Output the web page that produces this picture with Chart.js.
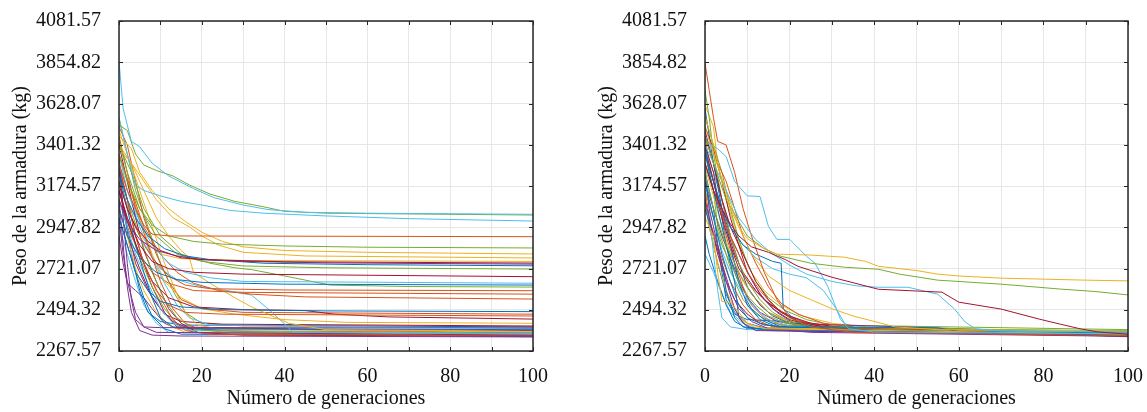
<!DOCTYPE html>
<html>
<head>
<meta charset="utf-8">
<script src="https://cdn.jsdelivr.net/npm/chart.js@4.4.1/dist/chart.umd.min.js"></script>
<style>
  html, body { margin:0; padding:0; background:#ffffff; }
  body { width:1147px; height:412px; position:relative; overflow:hidden; }
  canvas { position:absolute; top:0; }
  #c1 { left:0; }
  #c2 { left:586px; }
</style>
</head>
<body>
<canvas id="c1" width="552" height="412"></canvas>
<canvas id="c2" width="561" height="412"></canvas>
<script>
// ---------- axis ticks ----------
const yTicks = [2267.57, 2494.32, 2721.07, 2947.82, 3174.57, 3401.32, 3628.07, 3854.82, 4081.57];
const xTicks = [0, 10, 20, 30, 40, 50, 60, 70, 80, 90, 100];
const xLabelTicks = [0, 20, 40, 60, 80, 100];
const yTitle = 'Peso de la armadura (kg)';
const xTitle = 'Número de generaciones';

// MATLAB default colour order
const palette = { b:'#0072BD', o:'#D95319', y:'#EDB120', p:'#7E2F8E', g:'#77AC30', c:'#4DBEEE', r:'#A2142F' };

// ---------- left panel: runs [generation, weight] ----------
const leftRuns = [
  [[0,3860],[1,3600],[3,3420],[5,3390],[8,3300],[12,3230],[18,3160],[23,3110],[30,3070],[36,3045],[45,3030],[60,3025],[100,3019]],
  [[0,3510],[2,3480],[4,3350],[6,3290],[9,3260],[13,3230],[17,3180],[22,3130],[28,3090],[35,3060],[40,3035],[50,3025],[100,3015]],
  [[0,3550],[2,3350],[4,3180],[6,3150],[10,3120],[15,3090],[20,3070],[27,3040],[35,3025],[50,3010],[70,2995],[100,2982]],
  [[0,3300],[2,3150],[4,3050],[6,2960],[8,2910],[12,2900],[100,2896]],
  [[0,3420],[2,3250],[5,3050],[8,2960],[12,2900],[18,2870],[25,2855],[40,2845],[60,2838],[100,2834]],
  [[0,3450],[3,3380],[5,3250],[8,3150],[12,3050],[16,2980],[20,2920],[25,2870],[30,2840],[40,2820],[60,2810],[100,2801]],
  [[0,3380],[3,3300],[6,3200],[9,3100],[13,3000],[17,2950],[20,2900],[24,2850],[30,2810],[45,2790],[100,2779]],
  [[0,3200],[2,3050],[4,2950],[7,2870],[10,2820],[15,2780],[20,2770],[40,2758],[100,2751]],
  [[0,3100],[2,2980],[5,2880],[9,2820],[14,2790],[20,2770],[30,2760],[50,2752],[100,2745]],
  [[0,3250],[2,3100],[4,3000],[7,2900],[11,2830],[16,2790],[22,2770],[35,2750],[60,2742],[100,2736]],
  [[0,3350],[2,3200],[5,3050],[9,2900],[14,2800],[20,2760],[30,2735],[50,2725],[100,2718]],
  [[0,3150],[2,3000],[5,2850],[8,2760],[12,2720],[18,2700],[30,2690],[100,2676]],
  [[0,3300],[2,3150],[5,2980],[8,2850],[12,2750],[16,2700],[22,2670],[30,2650],[100,2640]],
  [[0,3050],[2,2900],[5,2780],[9,2700],[14,2660],[20,2645],[40,2635],[100,2630]],
  [[0,3400],[3,3250],[6,3050],[10,2900],[15,2800],[22,2750],[28,2725],[32,2715],[40,2680],[51,2630],[70,2622],[100,2619]],
  [[0,3200],[2,3050],[5,2900],[8,2780],[12,2680],[16,2630],[22,2610],[40,2603],[100,2599]],
  [[0,3350],[3,3150],[6,2950],[10,2800],[14,2700],[18,2640],[24,2600],[32,2580],[45,2565],[100,2553]],
  [[0,3000],[2,2850],[4,2700],[7,2600],[10,2540],[15,2510],[25,2495],[50,2488],[100,2484]],
  [[0,3300],[2,3100],[4,2900],[6,2750],[9,2600],[12,2520],[16,2480],[25,2470],[100,2460]],
  [[0,3150],[2,2980],[5,2800],[8,2650],[12,2560],[18,2510],[30,2495],[45,2490],[52,2470],[65,2455],[100,2443]],
  [[0,3400],[3,3300],[6,3150],[9,3000],[12,2900],[15,2820],[17,2780],[18,2700],[22,2640],[28,2560],[32,2510],[41,2420],[50,2385],[100,2375]],
  [[0,3200],[3,3000],[6,2850],[10,2720],[14,2660],[20,2620],[26,2600],[32,2575],[37,2480],[42,2372],[100,2365]],
  [[0,3350],[1,3000],[2,2750],[3,2550],[4,2440],[6,2400],[10,2396],[100,2394]],
  [[0,3100],[1,2850],[2,2620],[3,2480],[5,2380],[8,2355],[15,2350],[100,2345]],
  [[0,3000],[1,2800],[2,2650],[4,2480],[6,2400],[9,2370],[100,2355]],
  [[0,3250],[2,3050],[4,2850],[6,2700],[8,2560],[10,2450],[13,2400],[20,2390],[100,2385]],
  [[0,3150],[2,3000],[4,2850],[7,2700],[10,2560],[13,2440],[16,2380],[22,2360],[100,2350]],
  [[0,3480],[2,3350],[5,3150],[8,2950],[11,2750],[14,2580],[16,2480],[19,2410],[25,2385],[100,2372]],
  [[0,3250],[2,3100],[5,2900],[8,2700],[11,2550],[14,2450],[18,2390],[25,2372],[100,2365]],
  [[0,3100],[2,2950],[4,2800],[7,2640],[10,2500],[13,2420],[17,2380],[100,2360]],
  [[0,3400],[2,3200],[4,3000],[6,2820],[9,2650],[12,2500],[15,2420],[19,2370],[30,2355],[100,2350]],
  [[0,3000],[2,2850],[4,2700],[6,2560],[8,2460],[11,2390],[15,2360],[100,2348]],
  [[0,3450],[2,3250],[4,3050],[7,2850],[10,2650],[13,2500],[16,2420],[20,2380],[100,2362]],
  [[0,3050],[2,2900],[4,2720],[6,2600],[9,2480],[12,2410],[16,2370],[100,2355]],
  [[0,3200],[2,2950],[4,2750],[7,2600],[10,2500],[13,2430],[17,2390],[30,2375],[100,2370]],
  [[0,3150],[2,2980],[5,2780],[8,2620],[11,2500],[14,2420],[18,2370],[100,2350]],
  [[0,3350],[2,3150],[5,2950],[8,2780],[11,2640],[14,2520],[17,2450],[22,2410],[100,2392]],
  [[0,3050],[2,2900],[5,2720],[8,2560],[11,2470],[15,2430],[25,2415],[100,2405]],
  [[0,3300],[1,3050],[3,2800],[5,2600],[7,2480],[10,2430],[15,2410],[100,2400]],
  [[0,3500],[2,3400],[4,3200],[6,3000],[9,2800],[12,2650],[15,2550],[20,2500],[30,2480],[100,2470]],
  [[0,3350],[2,3200],[5,3000],[8,2800],[11,2650],[15,2560],[20,2500],[28,2470],[40,2440],[55,2425],[100,2420]],
  [[0,2900],[1,2750],[2,2640],[4,2600],[6,2560],[8,2500],[11,2420],[14,2390],[100,2380]],
  [[0,3550],[2,3350],[4,3150],[7,2950],[10,2750],[13,2600],[16,2480],[20,2420],[30,2405],[100,2400]],
  [[0,2950],[2,2800],[4,2650],[6,2520],[9,2420],[12,2370],[100,2345]],
  [[0,3280],[2,3100],[4,2900],[6,2750],[8,2620],[11,2480],[14,2400],[100,2365]],
  [[0,3200],[3,3000],[6,2880],[10,2800],[15,2775],[30,2765],[100,2760]],
  [[0,3100],[2,2950],[5,2800],[8,2700],[12,2640],[18,2600],[30,2590],[100,2580]]
];
const leftColors = ['c','g','c','o','g','y','y','r','p','b','g','r','c','b','g','o','o','b','o','r','y','c','p','p','p','b','o','y','g','c','r','b','o','y','p','g','c','r','b','o','y','p','g','c','r','y','o'];

// ---------- right panel: runs [generation, weight] ----------
const rightRuns = [
  [[0,3560],[2,3400],[4,3200],[6,3050],[8,2950],[10,2885],[14,2830],[17,2800],[25,2795],[33,2783],[38,2760],[41,2733],[50,2710],[55,2690],[60,2680],[70,2668],[90,2657],[100,2653]],
  [[0,3450],[2,3300],[5,3100],[8,2980],[10,2900],[14,2830],[18,2788],[25,2750],[33,2728],[41,2717],[46,2690],[55,2657],[70,2635],[84,2608],[92,2595],[100,2576]],
  [[0,3300],[2,3150],[5,3000],[8,2900],[11,2840],[15,2810],[19,2770],[22,2733],[30,2673],[41,2607],[56,2591],[60,2536],[70,2498],[79,2443],[84,2415],[89,2388],[93,2372],[100,2360]],
  [[0,3400],[2,3300],[5,3150],[8,3000],[12,2880],[16,2800],[20,2740],[24,2690],[30,2650],[36,2625],[41,2618],[48,2618],[55,2580],[59,2498],[61.5,2427],[64,2388],[70,2378],[100,2372]],
  [[0,3420],[3,3380],[5,3336],[7,3200],[8,3172],[10,3120],[13,3117],[15,2952],[17,2881],[20,2881],[24,2788],[26,2750],[29,2624],[32,2443],[34,2390],[40,2372],[100,2362]],
  [[0,3850],[1,3700],[2,3550],[3,3420],[5,3400],[7,3250],[9,3050],[11,2900],[14,2700],[17,2550],[20,2450],[25,2400],[35,2370],[100,2352]],
  [[0,3500],[2,3350],[5,3150],[8,2950],[11,2800],[15,2680],[20,2600],[25,2550],[30,2500],[35,2460],[40,2430],[45,2400],[55,2385],[100,2378]],
  [[0,3000],[2,2900],[3,2700],[4,2540],[6,2535],[8,2480],[10,2420],[14,2390],[100,2360]],
  [[0,3350],[2,3200],[4,3050],[6,2950],[9,2850],[12,2800],[16,2760],[18,2750],[18.5,2500],[22,2420],[30,2385],[100,2360]],
  [[0,3200],[2,3000],[4,2800],[6,2650],[8,2520],[10,2450],[14,2410],[20,2400],[40,2398],[55,2395],[60,2375],[100,2365]],
  [[0,3250],[2,3050],[5,2850],[8,2700],[11,2580],[15,2480],[20,2420],[28,2395],[55,2392],[60,2385],[100,2380]],
  [[0,3250],[1,3050],[3,2850],[5,2650],[7,2500],[9,2420],[12,2380],[100,2350]],
  [[0,3100],[2,2900],[4,2750],[6,2600],[8,2500],[11,2430],[15,2390],[25,2370],[100,2348]],
  [[0,3400],[1,3250],[3,3050],[5,2850],[7,2650],[8,2450],[10,2400],[15,2380],[100,2355]],
  [[0,3450],[2,3300],[4,3100],[6,2950],[9,2800],[12,2650],[15,2550],[18,2480],[22,2430],[28,2400],[40,2380],[100,2350]],
  [[0,3050],[2,2900],[4,2750],[5,2600],[7,2450],[9,2400],[15,2385],[100,2362]],
  [[0,3300],[1,3050],[2,2800],[3,2600],[4,2450],[6,2400],[10,2385],[100,2370]],
  [[0,3350],[2,3150],[5,2950],[8,2800],[10,2700],[13,2600],[16,2520],[20,2450],[26,2410],[35,2385],[100,2365]],
  [[0,3700],[1,3550],[2,3350],[4,3100],[6,2900],[8,2750],[10,2650],[13,2550],[16,2480],[20,2430],[28,2400],[100,2375]],
  [[0,3150],[1,2950],[3,2750],[5,2600],[7,2500],[9,2430],[12,2395],[100,2365]],
  [[0,3380],[2,3200],[4,3000],[6,2850],[8,2720],[11,2620],[14,2550],[17,2500],[20,2460],[25,2420],[33,2395],[100,2355]],
  [[0,3350],[2,3200],[4,3050],[6,2900],[9,2750],[12,2620],[14,2550],[17,2480],[21,2420],[26,2395],[100,2358]],
  [[0,2900],[1,2800],[3,2650],[5,2520],[7,2430],[10,2390],[100,2360]],
  [[0,3420],[2,3400],[3,3300],[5,3200],[7,3050],[9,2900],[12,2750],[15,2620],[18,2530],[22,2470],[28,2420],[36,2395],[100,2370]],
  [[0,3150],[2,3000],[4,2850],[7,2700],[9,2600],[12,2520],[15,2460],[19,2420],[25,2400],[100,2372]],
  [[0,3180],[2,3000],[4,2820],[6,2700],[9,2580],[12,2500],[15,2440],[20,2405],[100,2368]],
  [[0,3500],[2,3380],[4,3200],[6,3000],[8,2850],[10,2700],[13,2580],[16,2500],[20,2440],[26,2400],[100,2348]],
  [[0,3600],[2,3300],[4,3050],[6,2850],[8,2650],[10,2520],[13,2440],[17,2400],[100,2358]],
  [[0,3480],[2,3300],[4,3100],[6,2900],[8,2750],[10,2620],[13,2520],[16,2460],[20,2420],[100,2360]],
  [[0,3280],[2,3120],[4,2950],[6,2800],[9,2650],[12,2550],[15,2480],[20,2430],[30,2400],[100,2345]],
  [[0,2800],[2,2700],[4,2580],[6,2480],[9,2420],[12,2390],[100,2375]],
  [[0,3550],[2,3400],[4,3250],[6,3050],[8,2880],[10,2750],[12,2650],[15,2560],[19,2490],[24,2440],[30,2410],[100,2385]],
  [[0,3050],[2,2920],[4,2780],[6,2650],[9,2520],[12,2440],[16,2400],[100,2360]],
  [[0,3400],[2,3250],[3,3100],[5,2950],[7,2800],[9,2700],[12,2600],[15,2530],[18,2480],[23,2430],[30,2400],[100,2365]],
  [[0,3300],[2,3150],[4,3000],[5,2850],[7,2700],[9,2580],[11,2500],[14,2440],[18,2400],[100,2352]],
  [[0,3200],[2,3050],[4,2900],[6,2780],[8,2660],[10,2560],[13,2480],[17,2430],[25,2400],[100,2355]],
  [[0,3620],[2,3500],[3,3300],[5,3100],[7,2950],[9,2800],[11,2700],[14,2600],[18,2520],[23,2460],[30,2420],[40,2395],[100,2365]],
  [[0,3300],[2,3150],[3,2950],[5,2800],[7,2650],[9,2550],[12,2470],[16,2420],[22,2400],[100,2370]],
  [[0,3380],[2,3250],[4,3100],[6,2950],[9,2850],[12,2780],[16,2720],[20,2690],[24,2670],[28,2600],[31,2500],[33,2420],[36,2390],[100,2368]],
  [[0,3100],[1,2950],[3,2750],[5,2580],[7,2480],[10,2420],[14,2395],[100,2358]],
  [[0,3150],[1,3000],[3,2800],[5,2650],[7,2550],[10,2470],[13,2420],[18,2395],[100,2352]],
  [[0,3450],[1,3300],[3,3100],[5,2900],[7,2750],[9,2620],[11,2520],[14,2450],[18,2410],[100,2348]],
  [[0,3250],[2,3050],[3,2850],[4,2700],[5,2550],[7,2470],[10,2440],[20,2430],[22,2400],[100,2365]]
];
const rightColors = ['y','g','r','c','c','o','y','y','b','b','g','p','p','b','r','b','c','o','g','y','r','p','b','o','g','c','r','b','p','y','c','g','o','r','b','p','y','g','c','b','r','o','b'];

// ---------- helpers ----------
const frameTicksPlugin = {
  id: 'frameTicks',
  afterDatasetsDraw(chart) {
    const { ctx, chartArea: a, scales } = chart;
    ctx.save();
    ctx.strokeStyle = '#262626';
    ctx.lineWidth = 1;
    ctx.beginPath();
    const tl = 4;
    xTicks.forEach(v => {
      const px = Math.round(scales.x.getPixelForValue(v)) + 0.5;
      ctx.moveTo(px, a.bottom); ctx.lineTo(px, a.bottom - tl);
      ctx.moveTo(px, a.top); ctx.lineTo(px, a.top + tl);
    });
    yTicks.forEach(v => {
      const py = Math.round(scales.y.getPixelForValue(v)) + 0.5;
      ctx.moveTo(a.left, py); ctx.lineTo(a.left + tl, py);
      ctx.moveTo(a.right, py); ctx.lineTo(a.right - tl, py);
    });
    ctx.stroke();
    ctx.lineWidth = 1.5;
    ctx.strokeStyle = '#262626';
    ctx.strokeRect(a.left, a.top, a.right - a.left, a.bottom - a.top);
    ctx.restore();
  }
};

const font = { family: '"Liberation Serif", "Times New Roman", serif', size: 20 };

function makeChart(id, runs, colors, rightPad) {
  const datasets = runs.map((run, i) => ({
    data: run,
    borderColor: palette[colors[i % colors.length]],
    borderWidth: 1,
    pointRadius: 0,
    tension: 0,
    fill: false
  }));
  return new Chart(document.getElementById(id), {
    type: 'line',
    data: { datasets },
    options: {
      responsive: false,
      animation: false,
      devicePixelRatio: 1,
      layout: { padding: { top: 21, right: rightPad, left: 0, bottom: 0 } },
      plugins: { legend: { display: false }, tooltip: { enabled: false } },
      scales: {
        x: {
          type: 'linear', min: 0, max: 100,
          afterBuildTicks(s) { s.ticks = xTicks.map(v => ({ value: v })); },
          afterFit(s) { s.height = 61; s.paddingLeft = 0; s.paddingRight = 0; },
          ticks: {
            autoSkip: false, maxRotation: 0, padding: 14, color: '#111', font,
            callback: v => xLabelTicks.includes(v) ? String(v) : ''
          },
          grid: { color: '#e6e6e6', drawTicks: false, lineWidth: 1 },
          border: { display: false },
          title: { display: true, text: xTitle, color: '#111', font, padding: { top: 0, bottom: 1 } }
        },
        y: {
          type: 'linear', min: yTicks[0], max: yTicks[yTicks.length - 1],
          afterBuildTicks(s) { s.ticks = yTicks.map(v => ({ value: v })); },
          afterFit(s) { s.width = 119; s.paddingTop = 0; s.paddingBottom = 0; },
          ticks: {
            autoSkip: false, padding: 18, color: '#111', font,
            callback: v => v.toFixed(2)
          },
          grid: { color: '#e6e6e6', drawTicks: false, lineWidth: 1 },
          border: { display: false },
          title: { display: true, text: yTitle, color: '#111', font, padding: { top: 9, bottom: 9 } }
        }
      }
    },
    plugins: [frameTicksPlugin]
  });
}

makeChart('c1', leftRuns, leftColors, 19);
makeChart('c2', rightRuns, rightColors, 19);
</script>
</body>
</html>
